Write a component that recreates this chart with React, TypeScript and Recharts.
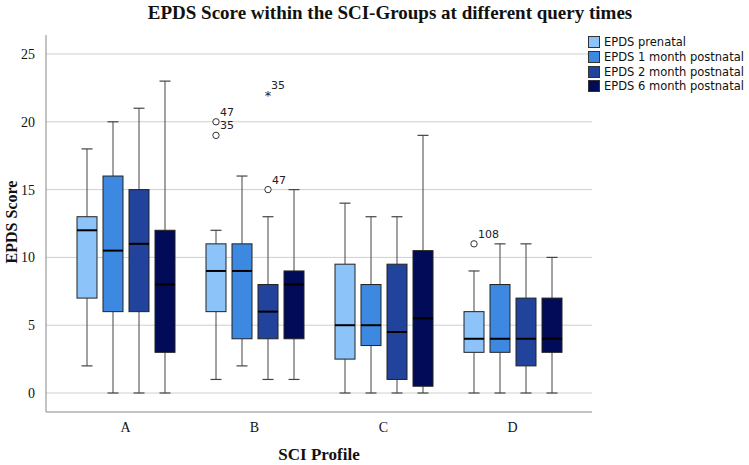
import React from "react";
import {
  ComposedChart,
  Bar,
  XAxis,
  YAxis,
  CartesianGrid,
  Legend,
} from "recharts";

// five-number summaries per SCI group: [min, q1, median, q3, max]
const groups = ["A", "B", "C", "D"];
const prenatal = [
  [2, 7, 12, 13, 18],
  [1, 6, 9, 11, 12],
  [0, 2.5, 5, 9.5, 14],
  [0, 3, 4, 6, 9],
];
const month1 = [
  [0, 6, 10.5, 16, 20],
  [2, 4, 9, 11, 16],
  [0, 3.5, 5, 8, 13],
  [0, 3, 4, 8, 11],
];
const month2 = [
  [0, 6, 11, 15, 21],
  [1, 4, 6, 8, 13],
  [0, 1, 4.5, 9.5, 13],
  [0, 2, 4, 7, 11],
];
const month6 = [
  [0, 3, 8, 12, 23],
  [1, 4, 8, 9, 15],
  [0, 0.5, 5.5, 10.5, 19],
  [0, 3, 4, 7, 10],
];
const seriesNames = [
  "EPDS prenatal",
  "EPDS 1 month postnatal",
  "EPDS 2 month postnatal",
  "EPDS 6 month postnatal",
];
const seriesColors = ["#8cc3f8", "#3d88e0", "#22439b", "#020b58"];
const yTicks = [0, 5, 10, 15, 20, 25];

// outliers: group, series index, value, case label, extreme (star)
const outliers = [
  { group: "B", series: 0, value: 20, label: "47", extreme: false },
  { group: "B", series: 0, value: 19, label: "35", extreme: false },
  { group: "B", series: 2, value: 15, label: "47", extreme: false },
  { group: "B", series: 2, value: 22, label: "35", extreme: true },
  { group: "D", series: 0, value: 11, label: "108", extreme: false },
];

const allStats = [prenatal, month1, month2, month6];

const data = groups.map((g, i) => {
  const row: any = { group: g };
  allStats.forEach((s, k) => {
    row["s" + k] = s[i];
    row["r" + k] = [s[i][0], s[i][4]];
  });
  return row;
});

const makeBox = (k: number) => (props: any) => {
  const { x, y, width, height, payload } = props;
  const st = payload["s" + k];
  const lo = st[0];
  const hi = st[4];
  const top = height >= 0 ? y : y + height;
  const h = Math.abs(height);
  const py = (v: number) => top + ((hi - v) / (hi - lo)) * h;
  const cx = x + width / 2;
  const cap = 5.5;
  const pts = outliers.filter((o) => o.group === payload.group && o.series === k);
  return (
    <g>
      <line x1={cx} x2={cx} y1={py(hi)} y2={py(st[3])} stroke="#444" strokeWidth={1} />
      <line x1={cx} x2={cx} y1={py(st[1])} y2={py(lo)} stroke="#444" strokeWidth={1} />
      <line x1={cx - cap} x2={cx + cap} y1={py(hi)} y2={py(hi)} stroke="#444" strokeWidth={1.2} />
      <line x1={cx - cap} x2={cx + cap} y1={py(lo)} y2={py(lo)} stroke="#444" strokeWidth={1.2} />
      <rect
        x={x}
        y={py(st[3])}
        width={width}
        height={py(st[1]) - py(st[3])}
        fill={seriesColors[k]}
        stroke="#222"
        strokeWidth={1}
      />
      <line x1={x} x2={x + width} y1={py(st[2])} y2={py(st[2])} stroke="#000" strokeWidth={2} />
      {pts.map((o, j) => {
        const oy = py(o.value);
        return (
          <g key={j}>
            {o.extreme ? (
              <text x={cx} y={oy + 5} textAnchor="middle" fontSize={13} fontFamily="DejaVu Sans" fill="#222">
                *
              </text>
            ) : (
              <circle cx={cx} cy={oy} r={3.2} fill="#fff" stroke="#333" strokeWidth={1} />
            )}
            <text
              x={cx + (o.extreme ? 3 : 4)}
              y={oy - 6}
              fontSize={11}
              fontFamily="DejaVu Sans"
              fill="#222"
            >
              {o.label}
            </text>
          </g>
        );
      })}
    </g>
  );
};

const renderLegend = () => (
  <div style={{ fontFamily: "DejaVu Sans", fontSize: 11.5, color: "#111" }}>
    {seriesNames.map((n, k) => (
      <div key={n} style={{ display: "flex", alignItems: "center", height: 14.7 }}>
        <span
          style={{
            display: "inline-block",
            width: 12,
            height: 12,
            background: seriesColors[k],
            border: "1px solid #333",
            boxSizing: "border-box",
            marginRight: 4,
          }}
        />
        {n}
      </div>
    ))}
  </div>
);

export default function App() {
  return (
    <div style={{ position: "relative", width: 749, height: 465, background: "#fff" }}>
      <style>{"body{margin:0}"}</style>
      <ComposedChart
        width={749}
        height={465}
        data={data}
        margin={{ top: 35, right: 157, left: 0, bottom: 28 }}
        barSize={20}
        barGap={6}
      >
        <text
          x={390}
          y={19}
          textAnchor="middle"
          fontFamily="Liberation Serif"
          fontWeight="bold"
          fontSize={19}
          fill="#111"
        >
          EPDS Score within the SCI-Groups at different query times
        </text>
        <text
          x={319}
          y={460}
          textAnchor="middle"
          fontFamily="Liberation Serif"
          fontWeight="bold"
          fontSize={17}
          fill="#111"
        >
          SCI Profile
        </text>
        <text
          x={0}
          y={0}
          transform="translate(17 222) rotate(-90)"
          textAnchor="middle"
          fontFamily="Liberation Serif"
          fontWeight="bold"
          fontSize={16}
          fill="#111"
        >
          EPDS Score
        </text>
        <CartesianGrid vertical={false} stroke="#cfcfcf" horizontalValues={yTicks} />
        <XAxis
          dataKey="group"
          padding={{ left: 15, right: 15 }}
          height={25}
          tickLine={false}
          axisLine={{ stroke: "#888" }}
          tick={{ fontFamily: "Liberation Serif", fontSize: 14, fill: "#111" }}
          tickMargin={4}
        />
        <YAxis
          width={46}
          domain={[-1.4, 26.4]}
          ticks={yTicks}
          tickLine={false}
          axisLine={{ stroke: "#888" }}
          tick={{ fontFamily: "Liberation Serif", fontSize: 14, fill: "#111" }}
          tickMargin={5}
          allowDataOverflow
        />
        <Legend
          verticalAlign="middle"
          align="center"
          layout="vertical"
          content={renderLegend}
          wrapperStyle={{ top: 35, left: 588, width: 160 }}
        />
        {seriesNames.map((n, k) => (
          <Bar
            key={n}
            name={n}
            dataKey={"r" + k}
            fill={seriesColors[k]}
            shape={makeBox(k)}
            isAnimationActive={false}
          />
        ))}
      </ComposedChart>
    </div>
  );
}
